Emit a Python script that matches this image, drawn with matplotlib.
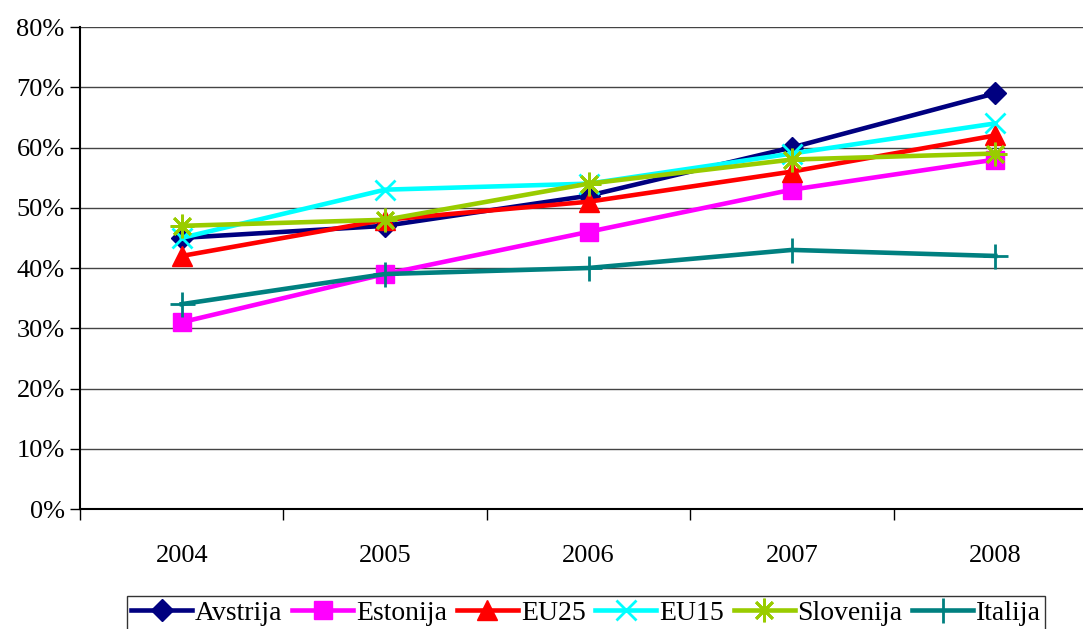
import matplotlib.pyplot as plt
from matplotlib.ticker import FixedLocator, PercentFormatter

years = ['2004', '2005', '2006', '2007', '2008']
avstrija = [45, 47, 52, 60, 69]
estonija = [31, 39, 46, 53, 58]
eu25 = [42, 48, 51, 56, 62]
eu15 = [45, 53, 54, 59, 64]
slovenija = [47, 48, 54, 58, 59]
italija = [34, 39, 40, 43, 42]

plt.rcParams['font.family'] = ['Liberation Serif', 'DejaVu Serif']

fig = plt.figure(figsize=(10.83, 6.29), dpi=100)
ax = fig.add_axes([80 / 1083, 1 - 509 / 629, 1017 / 1083, 482 / 629])

x = list(range(len(years)))
series = [
    ('Avstrija', avstrija, '#000080', 'D', 11, 1),
    ('Estonija', estonija, '#FF00FF', 's', 13, 1),
    ('EU25', eu25, '#FF0000', '^', 14, 1),
    ('EU15', eu15, '#00FFFF', 'x', 15, 2),
    ('Slovenija', slovenija, '#99CC00', (8, 2, 0), 17, 2),
    ('Italija', italija, '#008080', '+', 18, 2),
]
for name, vals, col, mk, ms, mew in series:
    ax.plot(x, vals, color=col, lw=3.3, marker=mk, markersize=ms,
            markeredgewidth=mew, markeredgecolor=col, markerfacecolor=col,
            label=name, clip_on=False, zorder=3)

ax.set_xlim(-0.5, 4.5)
ax.set_ylim(0, 80)
ax.yaxis.set_major_locator(FixedLocator(range(0, 81, 10)))
ax.yaxis.set_major_formatter(PercentFormatter(decimals=0))
ax.grid(axis='y', color='#444444', lw=1)
ax.set_axisbelow(True)

ax.set_xticks(x)
ax.set_xticklabels(years)
ax.set_xticks([i - 0.5 for i in range(len(years) + 1)], minor=True)
ax.tick_params(axis='x', which='major', length=0, pad=26, labelsize=19)
ax.tick_params(axis='x', which='minor', length=8, width=1, direction='out')
ax.tick_params(axis='y', length=7, width=1, direction='out', labelsize=19, pad=4)

for s in ['top', 'right']:
    ax.spines[s].set_visible(False)
ax.spines['left'].set_linewidth(1.5)
ax.spines['bottom'].set_linewidth(1.5)

leg = fig.legend(loc='upper left', bbox_to_anchor=(127 / 1083, 1 - 596 / 629),
                 ncol=6, fontsize=20, frameon=True, fancybox=False,
                 edgecolor='black', handlelength=2.2, handletextpad=0.1,
                 columnspacing=0.35, borderpad=0.15, borderaxespad=0)
leg.get_frame().set_linewidth(1)

fig.savefig('out.png', dpi=100)
